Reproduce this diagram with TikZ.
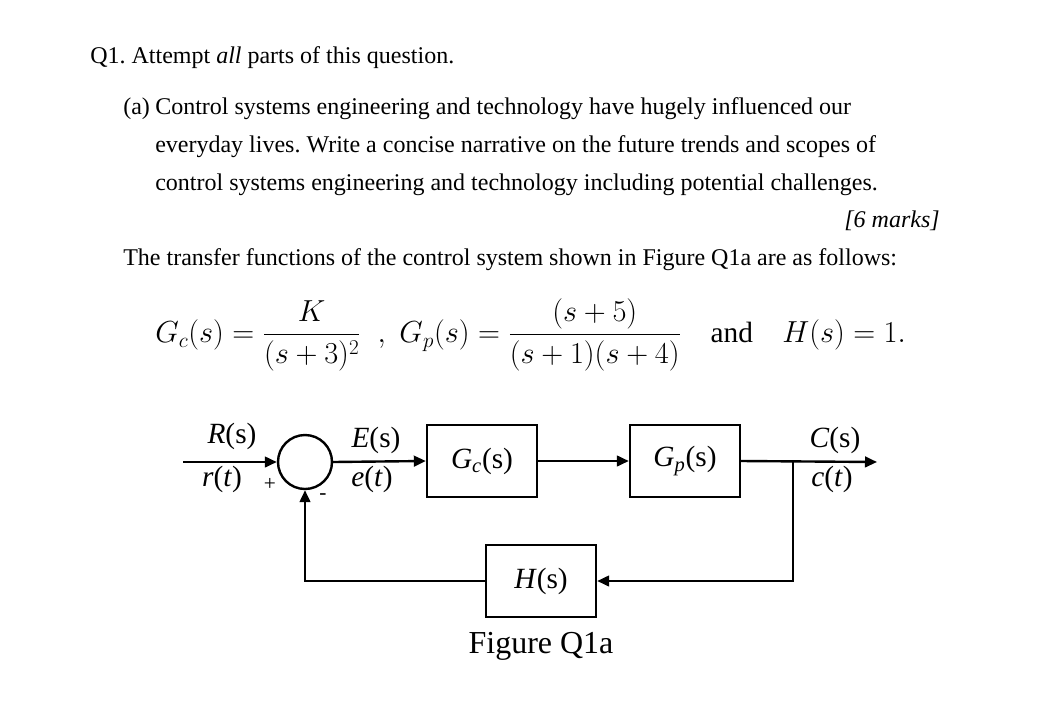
\documentclass[tikz,border=0pt]{standalone}
\usepackage{fontspec}
\usepackage{amsmath}
\usepackage{graphicx}
\setmainfont{Liberation Serif}
\frenchspacing
\usetikzlibrary{arrows.meta}
\begin{document}
\begin{tikzpicture}[x=0.75pt,y=-0.75pt,
  txt/.style={anchor=base west,inner sep=0,font=\fontsize{18}{20}\selectfont},
  blk/.style={draw,line width=1.8pt,minimum width=82.5pt,minimum height=54pt,inner sep=0,font=\fontsize{22}{24}\selectfont},
  lbl/.style={inner sep=0,font=\fontsize{22}{24}\selectfont},
  sig/.style={line width=1.8pt,-{Triangle[length=9pt,width=8pt]}}]
\useasboundingbox (0,0) rectangle (1061,704);
\node[txt] (q) at (90,63) {Q1. Attempt \emph{all} parts of this question.};
\node[txt] (a) at (123,114) {(a)};
\node[txt] (l1) at (155,114) {Control systems engineering and technology have hugely influenced our};
\node[txt] (l2) at (155,152) {everyday lives. Write a concise narrative on the future trends and scopes of};
\node[txt] (l3) at (155,190) {control systems engineering and technology including potential challenges.};
\node[txt,anchor=base east] (m) at (940,227) {\emph{[6 marks]}};
\node[txt] (tf) at (123,265) {The transfer functions of the control system shown in Figure Q1a are as follows:};
\node[anchor=west,inner sep=0,font=\fontsize{24}{26}\selectfont] (eq) at (155,335)
 {\scalebox{0.917}{$G_c(s)=\dfrac{K}{(s+3)^2}\;\;,\;G_p(s)=\dfrac{(s+5)}{(s+1)(s+4)}$\quad and\quad $H(s)=1.$}};
% block diagram
\node[draw,circle,line width=1.8pt,minimum size=40.5pt,inner sep=0] (sum) at (305,462) {};
\node[blk] (gc) at (482,461) {\textit{G}\textsubscript{\textit{c}}(s)};
\node[blk] (gp) at (685,461) {\textit{G}\textsubscript{\textit{p}}(s)};
\node[blk] (h) at (541,581) {\textit{H}(s)};
\coordinate (in) at (183,462);
\coordinate (out) at (877,462);
\coordinate (br) at (793,462);
\draw[sig] (in) -- (sum.west);
\draw[sig] (sum.east) -- (gc.west);
\draw[sig] (gc.east) -- (gp.west);
\draw[sig] (gp.east) -- (out);
\draw[sig] (br) |- (h.east);
\draw[sig] (h.west) -| (sum.south);
\node[lbl] (R) at (232,436) {\textit{R}(s)};
\node[lbl] (r) at (222,479) {\textit{r}(\textit{t})};
\node[lbl,font=\fontsize{16}{16}\selectfont] (p) at (270,484) {+};
\node[lbl,font=\fontsize{16}{16}\selectfont] (mi) at (323,497) {-};
\node[lbl] (E) at (376,440) {\textit{E}(s)};
\node[lbl] (e) at (372,479) {\textit{e}(\textit{t})};
\node[lbl] (C) at (835,440) {\textit{C}(s)};
\node[lbl] (c) at (832,479) {\textit{c}(\textit{t})};
\node[lbl,font=\fontsize{24}{26}\selectfont] (fig) at (541,646) {Figure Q1a};
\end{tikzpicture}
\end{document}
